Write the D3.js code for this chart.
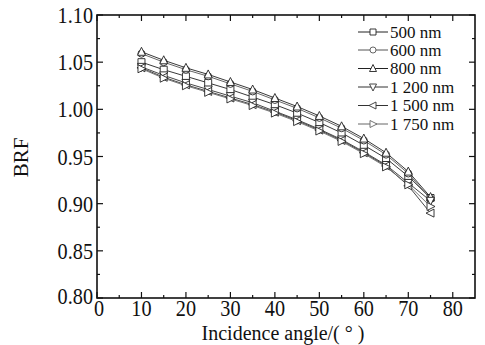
<!DOCTYPE html>
<html>
<head>
<meta charset="utf-8">
<script src="https://cdn.jsdelivr.net/npm/d3@7"></script>
<style>
  body { margin: 0; background: #fff; }
  svg text { font-family: "Liberation Serif", "Times New Roman", serif; fill: #111; }
</style>
</head>
<body>
<div id="chart"></div>
<script>
// incidence angles
const angles = [10, 15, 20, 25, 30, 35, 40, 45, 50, 55, 60, 65, 70, 75];

// BRF per wavelength
const brf500  = [1.050, 1.042, 1.035, 1.028, 1.021, 1.013, 1.005, 0.996, 0.986, 0.975, 0.962, 0.948, 0.929, 0.906];
const brf600  = [1.059, 1.050, 1.042, 1.035, 1.027, 1.019, 1.010, 1.001, 0.991, 0.980, 0.967, 0.952, 0.932, 0.905];
const brf800  = [1.061, 1.052, 1.044, 1.037, 1.029, 1.021, 1.012, 1.003, 0.993, 0.982, 0.969, 0.954, 0.934, 0.907];
const brf1200 = [1.045, 1.036, 1.028, 1.021, 1.014, 1.007, 0.998, 0.989, 0.979, 0.968, 0.955, 0.941, 0.922, 0.903];
const brf1500 = [1.044, 1.034, 1.026, 1.019, 1.012, 1.005, 0.997, 0.988, 0.978, 0.967, 0.954, 0.940, 0.919, 0.890];
const brf1750 = [1.043, 1.033, 1.025, 1.018, 1.011, 1.004, 0.996, 0.987, 0.977, 0.966, 0.953, 0.939, 0.920, 0.897];

const seriesNames = ["500 nm", "600 nm", "800 nm", "1 200 nm", "1 500 nm", "1 750 nm"];
const seriesVals = [brf500, brf600, brf800, brf1200, brf1500, brf1750];
const markers = ["square", "circle", "up", "down", "left", "right"];

const xTicks = [0, 10, 20, 30, 40, 50, 60, 70, 80];
const yTicks = [0.80, 0.85, 0.90, 0.95, 1.00, 1.05, 1.10];

const W = 485, H = 345;
const margin = {top: 15, right: 10, bottom: 47, left: 97};
const width = W - margin.left - margin.right,
      height = H - margin.top - margin.bottom;

const svg = d3.select("#chart").append("svg")
    .attr("width", W).attr("height", H);
const g = svg.append("g")
    .attr("transform", `translate(${margin.left},${margin.top})`);

const x = d3.scaleLinear().domain([0, 85]).range([0, width]);
const y = d3.scaleLinear().domain([0.80, 1.10]).range([height, 0]);

// ticks, inward, mirrored
const xMinor = d3.range(5, 85, 10);
const yMinor = d3.range(0.825, 1.10, 0.05);

function tickMarks(sel, vals, len, horiz, atEnd) {
  sel.selectAll(null).data(vals).join("line")
    .attr("x1", d => horiz ? x(d) : (atEnd ? width : 0))
    .attr("x2", d => horiz ? x(d) : (atEnd ? width - len : len))
    .attr("y1", d => horiz ? (atEnd ? 0 : height) : y(d))
    .attr("y2", d => horiz ? (atEnd ? len : height - len) : y(d))
    .attr("stroke", "#111").attr("stroke-width", 1.2);
}
tickMarks(g, xTicks, 6, true, false);
tickMarks(g, xTicks, 6, true, true);
tickMarks(g, xMinor, 3, true, false);
tickMarks(g, xMinor, 3, true, true);
tickMarks(g, yTicks, 6, false, false);
tickMarks(g, yTicks, 6, false, true);
tickMarks(g, yMinor, 3, false, false);
tickMarks(g, yMinor, 3, false, true);

// frame
g.append("rect").attr("width", width).attr("height", height)
  .attr("fill", "none").attr("stroke", "#111").attr("stroke-width", 1.6);

// tick labels (tall, slightly narrow like the original typeface)
g.selectAll(".xl").data(xTicks).join("text")
  .attr("transform", d => `translate(${x(d) + (d === 0 ? 2 : 0)},${height + 18}) scale(0.88,1)`)
  .attr("text-anchor", "middle").style("font-size", "23px")
  .text(d => d);
g.selectAll(".yl").data(yTicks).join("text")
  .attr("transform", d => `translate(-4,${y(d) - (d === 0.80 ? 2 : 0)}) scale(0.88,1)`)
  .attr("dy", "0.35em")
  .attr("text-anchor", "end").style("font-size", "23px")
  .text(d => d3.format(".2f")(d));

// axis titles
svg.append("text")
  .attr("x", margin.left + width / 2 - 3).attr("y", 340)
  .attr("text-anchor", "middle").style("font-size", "20px")
  .text("Incidence angle/( ° )");
svg.append("text")
  .attr("transform", `translate(28,${margin.top + height / 2 + 1}) rotate(-90)`)
  .attr("text-anchor", "middle").style("font-size", "21px")
  .text("BRF");

// marker shapes
function markerPath(type, s) {
  const h = s / 2;
  switch (type) {
    case "square": return `M${-h},${-h}H${h}V${h}H${-h}Z`;
    case "circle": return d3.symbol(d3.symbolCircle, s * s * 0.8)();
    case "up": return `M0,${-h - 1}L${h + 0.5},${h}L${-h - 0.5},${h}Z`;
    case "down": return `M0,${h + 1}L${h + 0.5},${-h}L${-h - 0.5},${-h}Z`;
    case "left": return `M${-h - 1},0L${h},${-h - 0.5}L${h},${h + 0.5}Z`;
    case "right": return `M${h + 1},0L${-h},${-h - 0.5}L${-h},${h + 0.5}Z`;
  }
}

const line = d3.line().x(d => x(d[0])).y(d => y(d[1]));
const lineColors = ["#222", "#555", "#222", "#333", "#333", "#666"];

seriesVals.forEach((vals, i) => {
  const pts = angles.map((a, j) => [a, vals[j]]);
  g.append("path").datum(pts)
    .attr("d", line).attr("fill", "none")
    .attr("stroke", lineColors[i]).attr("stroke-width", 0.9);
  g.selectAll(null).data(pts).join("path")
    .attr("transform", d => `translate(${x(d[0])},${y(d[1])})`)
    .attr("d", markerPath(markers[i], 7))
    .attr("fill", "#fff").attr("stroke", "#222").attr("stroke-width", 0.9);
});

// legend
const legY = [32, 50, 68.5, 87, 105.5, 124];
const leg = svg.append("g");
seriesNames.forEach((name, i) => {
  leg.append("line")
    .attr("x1", 358).attr("x2", 388).attr("y1", legY[i]).attr("y2", legY[i])
    .attr("stroke", lineColors[i]).attr("stroke-width", 1);
  leg.append("path")
    .attr("transform", `translate(373,${legY[i]})`)
    .attr("d", markerPath(markers[i], 6))
    .attr("fill", "#fff").attr("stroke", lineColors[i]).attr("stroke-width", 0.9);
  leg.append("text")
    .attr("x", 390).attr("y", legY[i]).attr("dy", "0.35em")
    .style("font-size", "17px")
    .text(name);
});
</script>
</body>
</html>
